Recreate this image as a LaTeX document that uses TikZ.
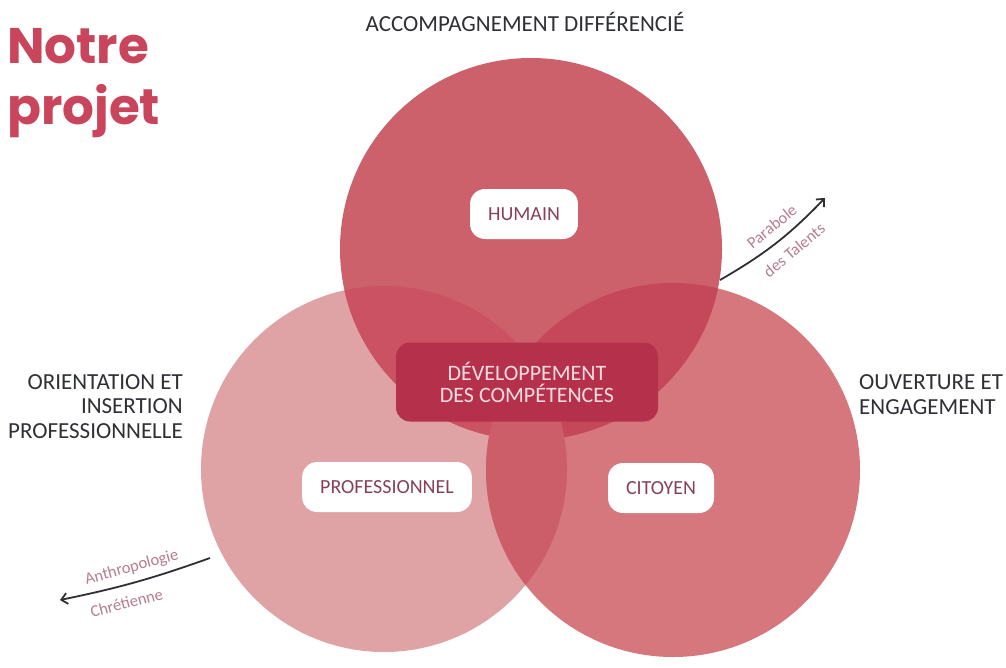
\documentclass[tikz,border=0pt]{standalone}
\usepackage{fontspec}
\setmainfont{Carlito}
\newfontfamily\titlefont{Poppins}
\usetikzlibrary{arrows.meta}
\usetikzlibrary{positioning}
\usepackage{xcolor}
\definecolor{titlered}{HTML}{C8455C}
\definecolor{headgray}{HTML}{2F3036}
\definecolor{humred}{HTML}{CC606B}
\definecolor{prored}{HTML}{DFA2A5}
\definecolor{citred}{HTML}{D5777C}
\definecolor{humpro}{HTML}{CB5262}
\definecolor{humcit}{HTML}{C5485A}
\definecolor{procit}{HTML}{CC5E69}
\definecolor{devred}{HTML}{B5314B}
\definecolor{devtext}{HTML}{F4DDE1}
\definecolor{tagtext}{HTML}{86405A}
\definecolor{notepink}{HTML}{B87C8D}

\begin{document}
\begin{tikzpicture}[x=1pt,y=-1pt,
 heading/.style={text=headgray, inner sep=0, font=\fontsize{23}{24.5}\selectfont},
 tagbox/.style={fill=white, text=tagtext, rounded corners=15pt, minimum height=50pt, inner xsep=18pt, font=\fontsize{20}{22}\selectfont},
 note/.style={text=notepink, sloped, font=\fontsize{16.5}{18}\selectfont},
 bow/.style={line width=1.8pt, headgray, ->, >={Straight Barb[length=6pt,width=11pt]}}]
\useasboundingbox (0,0) rectangle (1006,667);
% the three circles
\coordinate (hum) at (531,249);
\coordinate (pro) at (384,469);
\coordinate (cit) at (673,470);
\fill[prored] (pro) circle (183);
\fill[citred] (cit) circle (187);
\fill[humred] (hum) circle (191);
\begin{scope}
 \clip (hum) circle (191);
 \fill[humpro] (pro) circle (183);
 \fill[humcit] (cit) circle (187);
\end{scope}
\begin{scope}
 \clip (pro) circle (183);
 \fill[procit] (cit) circle (187);
\end{scope}
% labels in the circles
\node[tagbox] (humain) at (524,214) {HUMAIN};
\node[tagbox] (professionnel) at (387,487) {PROFESSIONNEL};
\node[tagbox] (citoyen) at (661,488) {CITOYEN};
\node[fill=devred, text=devtext, rounded corners=14pt, minimum width=262pt, minimum height=79pt, align=center, font=\fontsize{22}{22}\selectfont] (dev) at (527,382) {DÉVELOPPEMENT\\DES COMPÉTENCES};
% headings
\node[anchor=base west, text=titlered, inner sep=0, align=left, font=\titlefont\bfseries\fontsize{50}{61}\selectfont] (title) at (7,124) {Notre\\projet};
\node[heading, anchor=base] (accomp) at (525,31) {ACCOMPAGNEMENT DIFFÉRENCIÉ};
\node[heading, anchor=base east, align=right] (orient) at (183,438) {ORIENTATION ET\\INSERTION\\PROFESSIONNELLE};
\node[heading, anchor=base west, align=left] (ouvert) at (859,414) {OUVERTURE ET\\ENGAGEMENT};
% arrows
\coordinate (talA) at (720,280);
\coordinate (talB) at (825,198);
\draw[bow] (talA) to[bend right=8] node[note, above, pos=.56, inner sep=9pt] (parabole) {Parabole} node[note, below, pos=.58, inner sep=10pt] (talents) {des Talents} (talB);
\coordinate (anthA) at (210,558);
\coordinate (anthB) at (60,600);
\draw[bow] (anthA) to[bend left=4] node[note, above, pos=.5, inner sep=7pt] (anthropo) {Anthropologie} node[note, below, pos=.6, inner sep=11pt] (chret) {Chrétienne} (anthB);
\end{tikzpicture}
\end{document}
